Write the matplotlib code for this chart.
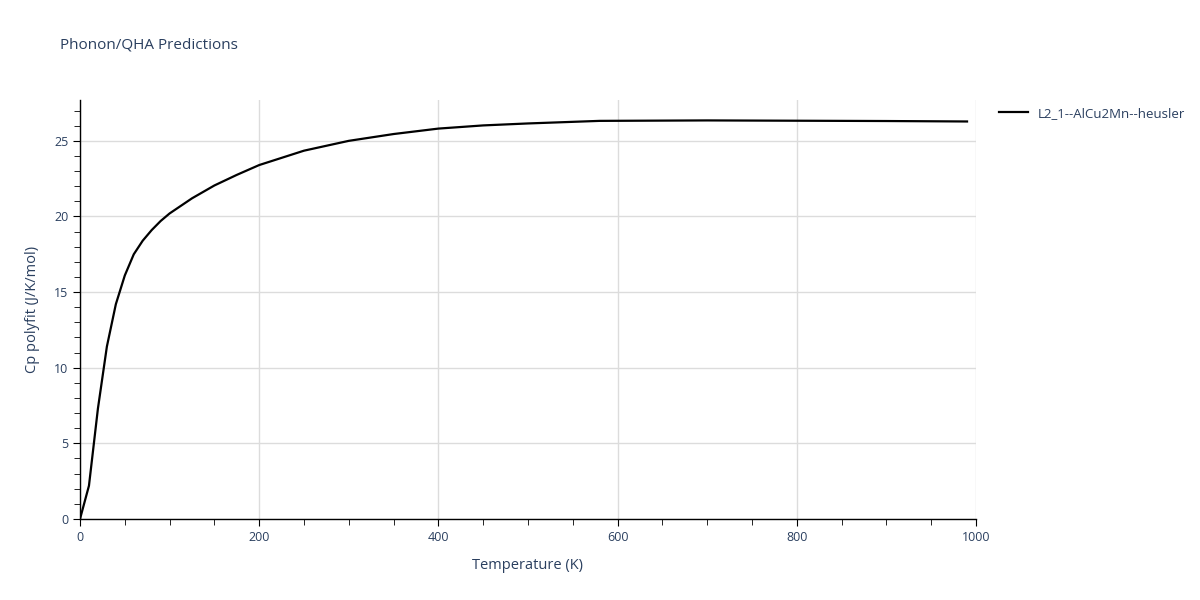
import matplotlib
matplotlib.use('Agg')
import matplotlib.pyplot as plt
from matplotlib.ticker import MultipleLocator

plt.rcParams['font.family'] = ['Open Sans', 'DejaVu Sans']

# temperature (K) and heat capacity
temps = [0, 10, 20, 30, 40, 50, 60, 70, 80, 90, 100, 125, 150, 175, 200,
         250, 300, 350, 400, 450, 500, 580, 700, 800, 900, 990]
cp = [0, 2.2, 7.3, 11.4, 14.2, 16.1, 17.5, 18.4, 19.1, 19.7, 20.2, 21.2,
      22.05, 22.75, 23.4, 24.35, 25.0, 25.45, 25.81, 26.02, 26.15, 26.32,
      26.35, 26.33, 26.31, 26.28]
series_name = 'L2_1--AlCu2Mn--heusler'

txt = '#2a3f5f'
fig = plt.figure(figsize=(12, 6), dpi=100)
ax = fig.add_axes([80/1200, 81/600, 896/1200, 419/600])

ax.plot(temps, cp, color='black', lw=1.6, label=series_name)
ax.set_xlim(0, 1000)
ax.set_ylim(0, 27.7)
ax.xaxis.set_major_locator(MultipleLocator(200))
ax.xaxis.set_minor_locator(MultipleLocator(50))
ax.yaxis.set_major_locator(MultipleLocator(5))
ax.yaxis.set_minor_locator(MultipleLocator(1))
ax.grid(True, which='major', color='#dcdcdc', lw=1)
ax.set_axisbelow(True)
for s in ['top', 'right']:
    ax.spines[s].set_visible(False)
for s in ['left', 'bottom']:
    ax.spines[s].set_color('black')
    ax.spines[s].set_linewidth(1)
ax.tick_params(which='both', direction='out', color='black', labelcolor=txt, labelsize=9)
ax.tick_params(which='major', length=5)
ax.tick_params(which='minor', length=4)

ax.set_xlabel('Temperature (K)', color=txt, fontsize=10.5, labelpad=10)
ax.set_ylabel('Cp polyfit (J/K/mol)', color=txt, fontsize=10.5, labelpad=10)
fig.text(60/1200, 1 - 45/600, 'Phonon/QHA Predictions', color=txt, fontsize=11, va='center')

ax.legend(loc='upper left', bbox_to_anchor=(1.012, 1.012), frameon=False,
          handlelength=2.2, fontsize=9.5, labelcolor=txt)

fig.savefig('out.png', dpi=100)
